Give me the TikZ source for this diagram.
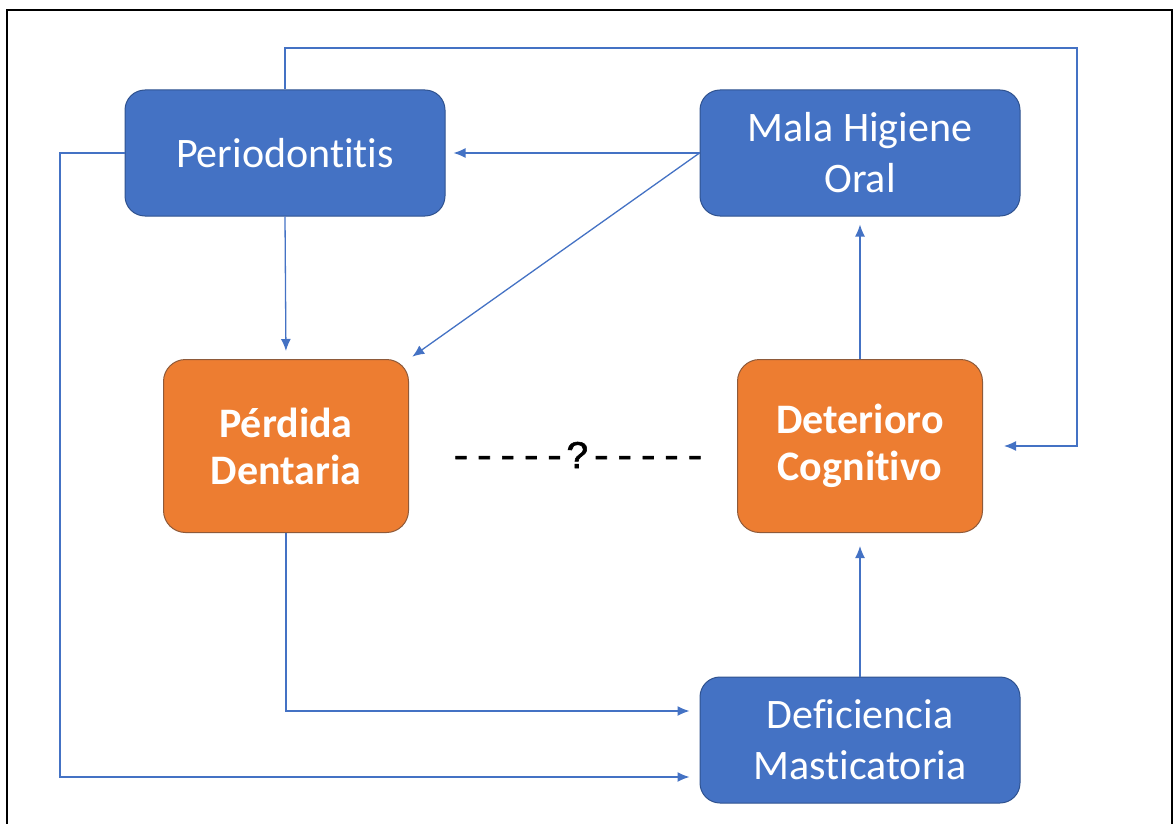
\documentclass[tikz,border=0pt]{standalone}
\usepackage{fontspec}
\setmainfont[Ligatures={NoCommon,NoContextual},RawFeature={-liga;-clig}]{Carlito}
\newfontfamily\qfont[FakeBold=1.5]{Liberation Mono}
\usetikzlibrary{arrows.meta,calc}

\definecolor{boxblue}{HTML}{4472C4}
\definecolor{edgeblue}{HTML}{2F528F}
\definecolor{boxorange}{HTML}{ED7D31}
\definecolor{edgeorange}{HTML}{8E5A3A}

\begin{document}
\begin{tikzpicture}[x=1pt, y=-1pt, >={Latex[length=12pt,width=10pt]},
  bluebox/.style={draw=edgeblue, line width=1pt, fill=boxblue, rounded corners=20pt,
    text=white, align=center, font=\fontsize{42}{51}\selectfont,
    minimum width=320pt, minimum height=126pt, inner sep=0pt},
  orangebox/.style={draw=edgeorange, line width=1pt, fill=boxorange, rounded corners=22pt,
    text=white, align=center, font=\fontsize{42}{47}\selectfont\bfseries,
    minimum width=245pt, minimum height=173pt, inner sep=0pt},
  conn/.style={draw=boxblue, line width=1.3pt, ->, shorten >=8pt}]
  % page 1173 x 824 px, 1 px = 1 pt
  \useasboundingbox (0,0) rectangle (1173,824);
  \draw[line width=2pt] (7,830) -- (7,10) -- (1172,10) -- (1172,830);

  % Causes (blue)
  \node[bluebox] (peri) at (285,153) {Periodontitis};
  \node[bluebox] (mala) at (860,153) {Mala Higiene\\Oral};
  \node[bluebox] (defi) at (860,740) {Deficiencia\\Masticatoria};

  % Outcomes (orange)
  \node[orangebox] (perd) at (286,446) {Pérdida\\Dentaria};
  \node[orangebox] (dete) at (860,446) {Deterioro\\Cognitivo};

  % Unknown link between them
  \node[font=\qfont\fontsize{39}{40}\selectfont] (q) at (578,455) {-----?-----};

  % Corner points of the long connectors
  \coordinate (topright) at (1077,48);
  \coordinate (botleft) at (60,777);

  % Connectors
  \draw[conn] (mala.west) -- (peri.east);
  \draw[conn, shorten >=4pt] (mala.west) -- (perd.north east);
  \draw[conn] (peri.south) -- (perd.north);
  \draw[conn] (dete.north) -- (mala.south);
  \draw[conn, shorten >=13pt] (defi.north) -- (dete.south);
  \draw[conn, shorten >=21pt] (peri.north) |- (topright) |- (dete.east);
  \draw[conn, shorten >=10pt] (peri.west) -| (botleft) -- (botleft -| defi.west);
  \draw[conn, shorten >=10pt] (perd.south) |- ($(defi.west)+(0,-29)$);
\end{tikzpicture}
\end{document}
